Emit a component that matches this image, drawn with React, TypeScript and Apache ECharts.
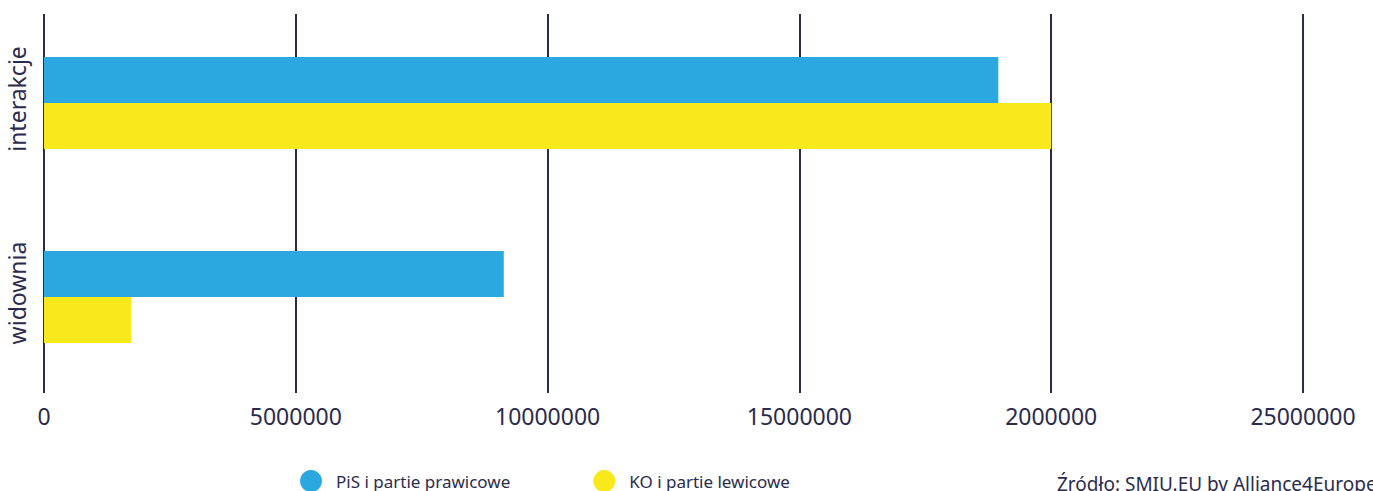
import React, { useEffect, useRef } from "react";
import * as echarts from "echarts";

const categories = ["interakcje", "widownia"];
const seriesNames = ["PiS i partie prawicowe", "KO i partie lewicowe"];
const pisValues = [18950000, 9130000];
const koValues = [20000000, 1730000];
const tickLabels = ["0", "5000000", "10000000", "15000000", "2000000", "25000000"];
const tickStep = 5000000;
const sourceText = "Źródło: SMIU.EU by Alliance4Europe";

const BLUE = "#2ba8e0";
const YELLOW = "#f8e81c";
const NAVY = "#2b2b4d";
const FONT = "'Noto Sans', sans-serif";

export default function App() {
  const ref = useRef<HTMLDivElement>(null);
  useEffect(() => {
    if (!ref.current) return;
    const chart = echarts.init(ref.current, null, { renderer: "svg" });
    const xMax = tickStep * (tickLabels.length - 1);
    chart.setOption({
      animation: false,
      backgroundColor: "#ffffff",
      grid: [
        { left: 44, right: 70, top: 6, height: 388, containLabel: false },
        { left: 44, right: 70, top: 14, height: 379, containLabel: false },
      ],
      xAxis: [
        {
          gridIndex: 0,
          type: "value",
          min: 0,
          max: xMax,
          interval: tickStep,
          axisLine: { show: false },
          axisTick: { show: false },
          axisLabel: { show: false },
          splitLine: { show: false },
        },
        {
          gridIndex: 1,
          type: "value",
          min: 0,
          max: xMax,
          interval: tickStep,
          axisLine: { show: false },
          axisTick: { show: false },
          axisLabel: {
            show: true,
            margin: 11,
            color: NAVY,
            fontFamily: FONT,
            fontSize: 23,
            formatter: (v: number) => tickLabels[Math.round(v / tickStep)] ?? String(v),
          },
          splitLine: { show: true, lineStyle: { color: NAVY, width: 2 } },
        },
      ],
      yAxis: [
        {
          gridIndex: 0,
          type: "category",
          data: categories,
          inverse: true,
          axisLine: { show: false },
          axisTick: { show: false },
          axisLabel: {
            rotate: 90,
            margin: 16,
            color: NAVY,
            fontFamily: FONT,
            fontSize: 23,
            padding: [0, 0, 0, 8],
          },
        },
        {
          gridIndex: 1,
          type: "category",
          data: categories,
          inverse: true,
          show: false,
        },
      ],
      legend: {
        data: seriesNames,
        left: 300,
        top: 470,
        padding: 0,
        icon: "circle",
        itemWidth: 22,
        itemHeight: 22,
        itemGap: 83,
        textStyle: { color: NAVY, fontFamily: FONT, fontSize: 17, padding: [0, 0, 0, 9] },
      },
      graphic: [
        {
          type: "text",
          left: 1057,
          top: 474,
          style: { text: sourceText, fill: NAVY, font: `19px ${FONT}` },
        },
      ],
      series: [
        {
          name: seriesNames[0],
          type: "bar",
          xAxisIndex: 0,
          yAxisIndex: 0,
          data: pisValues,
          barWidth: 46,
          barGap: "0%",
          itemStyle: { color: BLUE },
        },
        {
          name: seriesNames[1],
          type: "bar",
          xAxisIndex: 0,
          yAxisIndex: 0,
          data: koValues,
          barWidth: 46,
          barGap: "0%",
          itemStyle: { color: YELLOW },
        },
      ],
    });
    return () => chart.dispose();
  }, []);
  return (
    <div
      ref={ref}
      style={{ position: "fixed", left: 0, top: 0, width: 1373, height: 491 }}
    />
  );
}
